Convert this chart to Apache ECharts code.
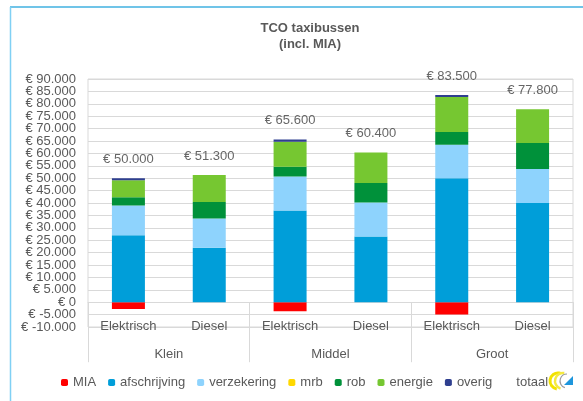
<!DOCTYPE html>
<html lang="nl">
<head>
    <meta charset="UTF-8">
    <title>TCO taxibussen</title>
    <script src="https://cdn.jsdelivr.net/npm/echarts@6/dist/echarts.min.js"></script>
    <style>
        html, body { margin: 0; padding: 0; background: #fff; }
    </style>
</head>
<body>
<div id="chart" style="width: 583px; height: 401px"></div>
<script>
    // waarden
    var categories = ['Elektrisch', 'Diesel', 'Elektrisch', 'Diesel', 'Elektrisch', 'Diesel'];
    var groups = ['Klein', 'Middel', 'Groot'];
    var mia = [-2700, 0, -3600, 0, -5000, 0];
    var afschrijving = [27000, 22000, 37000, 26500, 50000, 40000];
    var verzekering = [12000, 11800, 13700, 13700, 13500, 13700];
    var mrb = [0, 0, 0, 0, 0, 0];
    var rob = [3300, 6600, 3900, 7900, 5100, 10500];
    var energie = [6900, 10900, 10100, 12300, 14100, 13600];
    var overig = [800, 0, 900, 0, 800, 0];
    var totaal = [50000, 51300, 65600, 60400, 83500, 77800];
    var yMin = -10000, yMax = 90000, yStep = 5000;

    var font = 'Liberation Sans';
    var grey = '#595959';
    var gridColor = '#d9d9d9';

    function euro(v) {
        var s = String(Math.abs(v)).replace(/\B(?=(\d{3})+(?!\d))/g, '.');
        return '€ ' + (v < 0 ? '-' : '') + s;
    }

    function bar(name, data, color) {
        return {
            name: name,
            type: 'bar',
            stack: 'tco',
            barWidth: 33,
            data: data,
            itemStyle: { color: color },
            emphasis: { disabled: true }
        };
    }

    // twee y-assen op dezelfde plek: echarts verbergt anders de labels naast min/max
    function yAxis(inner) {
        return {
            type: 'value',
            position: 'left',
            min: yMin,
            max: yMax,
            interval: yStep,
            axisLine: { show: false },
            axisTick: { show: false },
            splitLine: { show: inner, lineStyle: { color: gridColor } },
            axisLabel: {
                margin: 12,
                showMinLabel: !inner,
                showMaxLabel: !inner,
                fontFamily: font,
                fontSize: 13,
                color: grey,
                formatter: function (v) {
                    var edge = (v === yMin || v === yMax);
                    return edge === inner ? '' : euro(v);
                }
            }
        };
    }

    var myChart = echarts.init(document.getElementById('chart'));
    var option = {
        animation: false,
        title: {
            text: 'TCO taxibussen\n(incl. MIA)',
            left: 310,
            top: 20,
            padding: 0,
            textAlign: 'center',
            textStyle: {
                fontFamily: font,
                fontSize: 13,
                fontWeight: 'bold',
                lineHeight: 16,
                color: grey
            }
        },
        legend: {
            left: 61,
            top: 376,
            padding: 0,
            itemWidth: 7,
            itemHeight: 7,
            itemGap: 12,
            textStyle: { fontFamily: font, fontSize: 13, color: grey },
            data: ['MIA', 'afschrijving', 'verzekering', 'mrb', 'rob', 'energie', 'overig', 'totaal']
        },
        grid: {
            left: 88,
            right: 10,
            top: 79,
            bottom: 74,
            show: true,
            borderColor: gridColor,
            borderWidth: 1
        },
        xAxis: [{
            type: 'category',
            data: categories,
            position: 'bottom',
            axisLine: { show: false, onZero: false },
            axisTick: { show: false },
            axisLabel: {
                interval: 0,
                margin: -7,
                fontFamily: font,
                fontSize: 13,
                color: grey
            }
        }, {
            type: 'category',
            data: groups,
            position: 'bottom',
            axisLine: { show: true, onZero: true, lineStyle: { color: gridColor } },
            axisTick: { show: true, length: 60, lineStyle: { color: gridColor } },
            axisLabel: {
                interval: 0,
                margin: 21,
                fontFamily: font,
                fontSize: 13,
                color: grey
            }
        }],
        yAxis: [yAxis(true), yAxis(false)],
        series: [
            bar('MIA', mia, '#ff0000'),
            bar('afschrijving', afschrijving, '#009ed9'),
            bar('verzekering', verzekering, '#8ed3fd'),
            bar('mrb', mrb, '#ffd800'),
            bar('rob', rob, '#00913a'),
            bar('energie', energie, '#76c731'),
            bar('overig', overig, '#2f3f8f'),
            {
                name: 'totaal',
                type: 'scatter',
                data: totaal,
                symbolSize: 1,
                itemStyle: { color: 'rgba(0,0,0,0)' },
                label: {
                    show: true,
                    position: 'top',
                    distance: 12,
                    fontFamily: font,
                    fontSize: 13,
                    color: '#404040',
                    formatter: function (p) { return euro(p.value); }
                },
                emphasis: { disabled: true }
            }
        ],
        graphic: [
            // blauwe kader bovenaan en links
            { type: 'line', shape: { x1: 10, y1: 7, x2: 583, y2: 7 }, style: { stroke: '#41b0e0', lineWidth: 1.5 } },
            { type: 'line', shape: { x1: 10.5, y1: 7, x2: 10.5, y2: 401 }, style: { stroke: '#80d0f4', lineWidth: 1.5 } },
            // logo rechtsonder
            { type: 'arc', shape: { cx: 558, cy: 381, r: 8, startAngle: Math.PI * 0.55, endAngle: Math.PI * 1.6 }, style: { stroke: '#f2e200', fill: null, lineWidth: 3 } },
            { type: 'arc', shape: { cx: 563, cy: 381, r: 8, startAngle: Math.PI * 0.6, endAngle: Math.PI * 1.55 }, style: { stroke: '#f5ea40', fill: null, lineWidth: 2.5 } },
            { type: 'arc', shape: { cx: 567, cy: 381, r: 7, startAngle: Math.PI * 0.6, endAngle: Math.PI * 1.5 }, style: { stroke: '#9a9a9a', fill: null, lineWidth: 1.2 } },
            { type: 'polygon', shape: { points: [[564, 385], [573, 385], [573, 376]] }, style: { fill: '#1e96dc' } }
        ]
    };
    myChart.setOption(option);
</script>
</body>
</html>
